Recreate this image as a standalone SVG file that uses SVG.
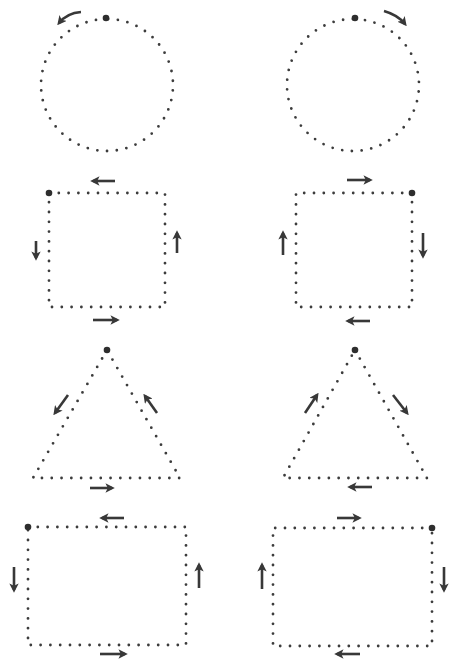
<svg xmlns="http://www.w3.org/2000/svg" width="450" height="660" viewBox="0 0 450 660">
<style>
.dot{fill:none;stroke:#3c3c3c;stroke-width:2.8;stroke-linecap:round;stroke-dasharray:0 9.8}
.start{fill:#2e2e2e}
.arr{fill:none;stroke:#383838;stroke-width:2.6;marker-end:url(#ah)}
</style>
<defs>
<marker id="ah" viewBox="0 0 10 10" refX="7" refY="5" markerWidth="3.6" markerHeight="3.6" orient="auto" markerUnits="strokeWidth">
<path d="M0,0 L10,5 L0,10 L2.5,5 Z" fill="#383838"/>
</marker>
</defs>
<rect width="450" height="660" fill="#fff"/>

<g id="circle-left">
<circle class="dot" cx="107" cy="85" r="66" transform="rotate(-89 107 85)"/>
<circle class="start" cx="106" cy="18" r="3.3"/>
<path class="arr" d="M81,12 Q67,13 59,23"/>
</g>

<g id="circle-right">
<circle class="dot" cx="353" cy="85" r="66" transform="rotate(-88 353 85)"/>
<circle class="start" cx="355" cy="18" r="3.3"/>
<path class="arr" d="M384,11 Q398,15 405,24"/>
</g>

<g id="square-left">
<path class="dot" d="M49,193 H165 V307 H49 Z"/>
<circle class="start" cx="49" cy="193" r="3.3"/>
<path class="arr" d="M115,181 H93"/>
<path class="arr" d="M36,241 V258"/>
<path class="arr" d="M177,253 V233"/>
<path class="arr" d="M93,320 H117"/>
</g>

<g id="square-right">
<path class="dot" d="M412,193 H296 V307 H412 Z"/>
<circle class="start" cx="412" cy="193" r="3.3"/>
<path class="arr" d="M347,180 H370"/>
<path class="arr" d="M283,255 V233"/>
<path class="arr" d="M423,233 V256"/>
<path class="arr" d="M370,321 H348"/>
</g>

<g id="triangle-left">
<path class="dot" d="M107,350 L33,478 H180 Z"/>
<circle class="start" cx="107" cy="350" r="3.3"/>
<path class="arr" d="M68,395 L55,413"/>
<path class="arr" d="M157,413 L145,396"/>
<path class="arr" d="M90,488 H112"/>
</g>

<g id="triangle-right">
<path class="dot" d="M355,350 L427,478 H283 Z"/>
<circle class="start" cx="355" cy="350" r="3.3"/>
<path class="arr" d="M305,413 L317,395"/>
<path class="arr" d="M393,395 L407,413"/>
<path class="arr" d="M372,487 H350"/>
</g>

<g id="rect-left">
<path class="dot" d="M28,527 H186 V645 H28 Z"/>
<circle class="start" cx="28" cy="527" r="3.3"/>
<path class="arr" d="M124,518 H102"/>
<path class="arr" d="M14,567 V590"/>
<path class="arr" d="M199,588 V565"/>
<path class="arr" d="M100,654 H125"/>
</g>

<g id="rect-right">
<path class="dot" d="M432,528 H273 V646 H432 Z"/>
<circle class="start" cx="432" cy="528" r="3.3"/>
<path class="arr" d="M337,518 H359"/>
<path class="arr" d="M262,589 V565"/>
<path class="arr" d="M444,567 V590"/>
<path class="arr" d="M360,654 H337"/>
</g>
</svg>
